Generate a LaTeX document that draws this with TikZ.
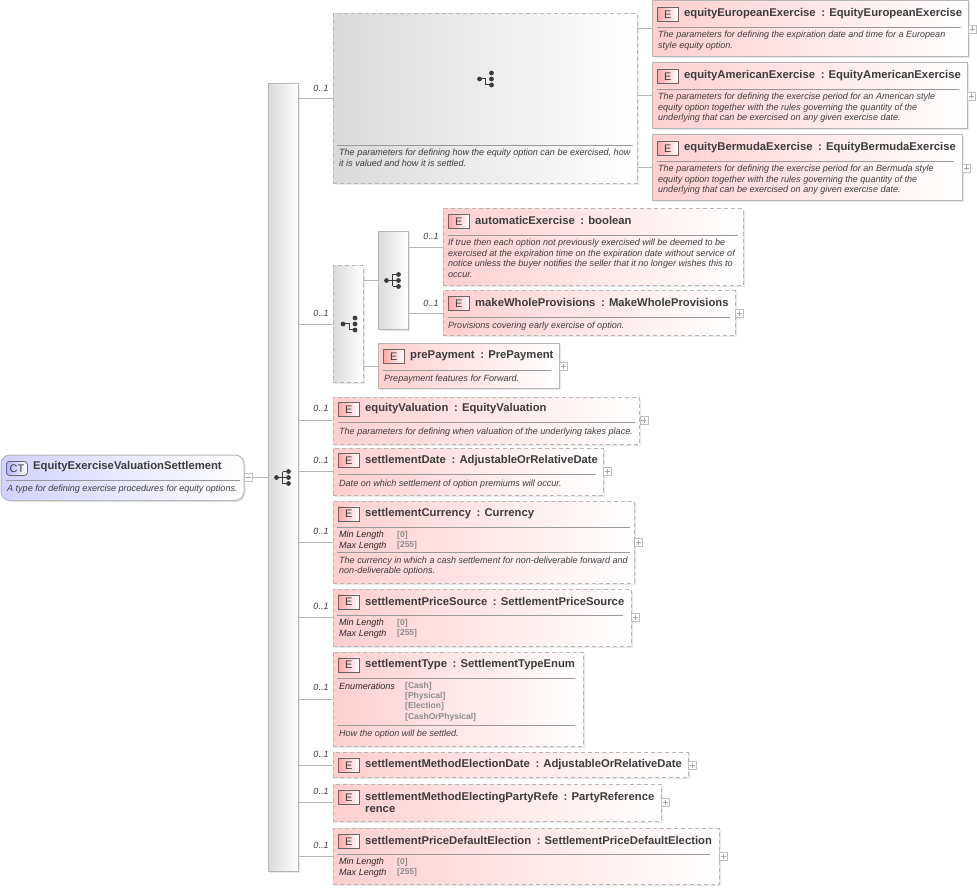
\documentclass[tikz,border=0pt]{standalone}
\usepackage{fontspec}
\setmainfont{Liberation Sans}
\usetikzlibrary{shadows}

\definecolor{elemred}{HTML}{FFCFCF}
\definecolor{typeblue}{HTML}{D2D2FF}
\definecolor{groupgray}{HTML}{DADADA}
\definecolor{edgegray}{HTML}{B6B6B6}
\definecolor{inkgray}{HTML}{3C3C3C}

\tikzset{
  softshadow/.style={drop shadow={shadow xshift=1.5pt,shadow yshift=-1.5pt,opacity=.13,fill=black!70}},
  box/.style={anchor=north west,inner sep=0pt,outer sep=0pt,line width=1pt,draw=edgegray,softshadow},
  elemsolid/.style={box,left color=elemred,right color=white},
  elemdash/.style={elemsolid,dash pattern=on 4pt off 3pt},
  groupsolid/.style={box,left color=groupgray,right color=white},
  groupdash/.style={groupsolid,dash pattern=on 4pt off 3pt},
  typebox/.style={box,left color=typeblue,right color=white,rounded corners=9pt},
  badge/.style={anchor=north west,inner sep=0pt,minimum width=21pt,minimum height=14pt,line width=.8pt,
    draw=black!60,left color=red!35,right color=white,text=inkgray,font=\fontsize{11}{12}\selectfont},
  ctbadge/.style={badge,rounded corners=3pt,left color=blue!30,right color=white},
  titletext/.style={anchor=west,inner sep=0pt,yshift=-.7pt,text=inkgray,align=left,font=\fontsize{11.27}{12}\selectfont\bfseries},
  desctext/.style={anchor=north west,inner sep=0pt,yshift=-1.2pt,text=inkgray,align=left,
    font=\fontsize{9.03}{10.4}\selectfont\itshape,execute at begin node=\strut},
  facetname/.style={desctext,text=black!85},
  facetval/.style={desctext,text=black!45,font=\fontsize{8.5}{10.4}\selectfont\bfseries},
  card/.style={inner sep=0pt,text=inkgray,font=\fontsize{9}{10}\selectfont\itshape},
  rulebar/.style={anchor=west,inner sep=0pt,outer sep=0pt,minimum height=.9pt,fill=black!40},
  conn/.style={draw=edgegray,line width=1pt},
  plusbox/.style={anchor=west,inner sep=0pt,minimum size=8pt,draw=black!25,line width=.6pt,fill=white,
    path picture={\draw[black!35,line width=.6pt]
      ([xshift=1.5pt]path picture bounding box.west) -- ([xshift=-1.5pt]path picture bounding box.east)
      ([yshift=-1.5pt]path picture bounding box.north) -- ([yshift=1.5pt]path picture bounding box.south);}},
  minusbox/.style={anchor=west,inner sep=0pt,minimum size=8pt,draw=black!25,line width=.6pt,fill=white,
    path picture={\draw[black!35,line width=.6pt]
      ([xshift=1.5pt]path picture bounding box.west) -- ([xshift=-1.5pt]path picture bounding box.east);}},
  seqicon/.pic={
    \draw[inkgray,line width=1pt] (-6,0) -- (0,0) (0,-6) -- (0,6) (0,-6) -- (6,-6) (0,0) -- (6,0) (0,6) -- (6,6);
    \fill[inkgray] (-6,0) circle (2.4) (6,-6) circle (2.4) (6,0) circle (2.4) (6,6) circle (2.4);
  },
  choiceicon/.pic={
    \draw[inkgray,line width=1pt] (-6,0) -- (0,0) -- (0,6) -- (6,6);
    \fill[inkgray] (-6,0) circle (2.4) (6,-6) circle (2.4) (6,0) circle (2.4) (6,6) circle (2.4);
  },
}

\begin{document}
\begin{tikzpicture}[x=1pt,y=-1pt]
\useasboundingbox (0,0) rectangle (977,890);

% complex type
\node[typebox,minimum width=243pt,minimum height=45.5pt] (settle) at (1,455) {};
\node[ctbadge] (settlect) at (6,461) {CT};
\node[titletext] (settletitle) at (33,466) {EquityExerciseValuationSettlement};
\node[rulebar,minimum width=234pt] (settlerule) at (6,480.5) {};
\node[desctext] (settledesc) at (7,483) {A type for defining exercise procedures for equity options.};
\node[minusbox] (settleminus) at (settle.east) {};

% main sequence
\node[groupsolid,minimum width=30pt,minimum height=787pt] (mainseq) at (268,84) {};
\pic at (282.5,477.5) {seqicon};
\draw[conn] (settleminus.east) -- (mainseq.west |- settleminus.east);

% choice with the three exercise styles
\node[groupdash,minimum width=304pt,minimum height=170pt] (stylegroup) at (333,14) {};
\pic at (485.5,79) {choiceicon};
\node[rulebar,minimum width=296pt] (stylerule) at (337,145) {};
\node[desctext] (styledesc) at (339,148) {The parameters for defining how the equity option can be exercised, how\\it is valued and how it is settled.};
\draw[conn] (mainseq.east |- stylegroup.west) -- (stylegroup.west);
\node[card] (card1) at (321,88) {0..1};

\node[elemsolid,minimum width=316pt,minimum height=56pt] (euro) at (652,1) {};
\node[badge] (eurobadge) at (657,7) {E};
\node[titletext] (eurotitle) at (684,13) {equityEuropeanExercise\enspace: EquityEuropeanExercise};
\node[rulebar,minimum width=304pt] (eurorule) at (657,27.3) {};
\node[desctext] (eurodesc) at (658,30) {The parameters for defining the expiration date and time for a European\\style equity option.};
\node[plusbox] (europlus) at (euro.east) {};

\node[elemsolid,minimum width=315pt,minimum height=66pt] (amer) at (652,63) {};
\node[badge] (amerbadge) at (657,69) {E};
\node[titletext] (amertitle) at (684,75) {equityAmericanExercise\enspace: EquityAmericanExercise};
\node[rulebar,minimum width=302pt] (amerrule) at (657,89.3) {};
\node[desctext] (amerdesc) at (658,92) {The parameters for defining the exercise period for an American style\\equity option together with the rules governing the quantity of the\\underlying that can be exercised on any given exercise date.};
\node[plusbox] (amerplus) at (amer.east) {};

\node[elemsolid,minimum width=310pt,minimum height=66pt] (berm) at (652,135) {};
\node[badge] (bermbadge) at (657,141) {E};
\node[titletext] (bermtitle) at (684,147) {equityBermudaExercise\enspace: EquityBermudaExercise};
\node[rulebar,minimum width=297pt] (bermrule) at (657,161.3) {};
\node[desctext] (bermdesc) at (658,164) {The parameters for defining the exercise period for an Bermuda style\\equity option together with the rules governing the quantity of the\\underlying that can be exercised on any given exercise date.};
\node[plusbox] (bermplus) at (berm.east) {};

\draw[conn] (stylegroup.east |- euro.west) -- (euro.west);
\draw[conn] (stylegroup.east |- amer.west) -- (amer.west);
\draw[conn] (stylegroup.east |- berm.west) -- (berm.west);

% choice of exercise provisions or prepayment
\node[groupdash,minimum width=30pt,minimum height=117pt] (paychoice) at (333,266) {};
\pic at (349,324) {choiceicon};
\draw[conn] (mainseq.east |- paychoice.west) -- (paychoice.west);
\node[card] (card2) at (321,313) {0..1};

\node[groupsolid,minimum width=30pt,minimum height=98pt] (provseq) at (378,232) {};
\pic at (392.5,280.5) {seqicon};
\draw[conn] (paychoice.east |- provseq.west) -- (provseq.west);

\node[elemdash,minimum width=300pt,minimum height=77pt] (auto) at (443,209) {};
\node[badge] (autobadge) at (448,214.5) {E};
\node[titletext] (autotitle) at (475,220) {automaticExercise\enspace: boolean};
\node[rulebar,minimum width=290pt] (autorule) at (448,235) {};
\node[desctext] (autodesc) at (448,238) {If true then each option not previously exercised will be deemed to be\\exercised at the expiration time on the expiration date without service of\\notice unless the buyer notifies the seller that it no longer wishes this to\\occur.};
\draw[conn] (provseq.east |- auto.west) -- (auto.west);
\node[card] (card3) at (431,236) {0..1};

\node[elemdash,minimum width=292pt,minimum height=45pt] (make) at (443,291) {};
\node[badge] (makebadge) at (448,296.5) {E};
\node[titletext] (maketitle) at (475,302) {makeWholeProvisions\enspace: MakeWholeProvisions};
\node[rulebar,minimum width=282pt] (makerule) at (448,317) {};
\node[desctext] (makedesc) at (448,320) {Provisions covering early exercise of option.};
\node[plusbox] (makeplus) at (make.east) {};
\draw[conn] (provseq.east |- make.west) -- (make.west);
\node[card] (card4) at (431,303) {0..1};

\node[elemsolid,minimum width=181pt,minimum height=45pt] (prepay) at (378,344) {};
\node[badge] (prepaybadge) at (383,349.5) {E};
\node[titletext] (prepaytitle) at (410,355) {prePayment\enspace: PrePayment};
\node[rulebar,minimum width=168pt] (prepayrule) at (383,370.5) {};
\node[desctext] (prepaydesc) at (384,373) {Prepayment features for Forward.};
\node[plusbox] (prepayplus) at (prepay.east) {};
\draw[conn] (paychoice.east |- prepay.west) -- (prepay.west);

% the remaining elements of the sequence
\node[elemdash,minimum width=306.5pt,minimum height=47pt] (valu) at (333,397) {};
\node[badge] (valubadge) at (338,402) {E};
\node[titletext] (valutitle) at (365,408) {equityValuation\enspace: EquityValuation};
\node[rulebar,minimum width=297pt] (valurule) at (338,422.5) {};
\node[desctext] (valudesc) at (339,426) {The parameters for defining when valuation of the underlying takes place.};
\node[plusbox] (valuplus) at (valu.east) {};
\draw[conn] (mainseq.east |- valu.west) -- (valu.west);
\node[card] (card5) at (321,408) {0..1};

\node[elemdash,minimum width=270pt,minimum height=47pt] (date) at (333,448) {};
\node[badge] (datebadge) at (338,453) {E};
\node[titletext] (datetitle) at (365,460) {settlementDate\enspace: AdjustableOrRelativeDate};
\node[rulebar,minimum width=258pt] (daterule) at (338,474.5) {};
\node[desctext] (datedesc) at (339,478) {Date on which settlement of option premiums will occur.};
\node[plusbox] (dateplus) at (date.east) {};
\draw[conn] (mainseq.east |- date.west) -- (date.west);
\node[card] (card6) at (321,460.5) {0..1};

\node[elemdash,minimum width=301pt,minimum height=82pt] (curr) at (333,501) {};
\node[badge] (currbadge) at (338,506.5) {E};
\node[titletext] (currtitle) at (365,512.5) {settlementCurrency\enspace: Currency};
\node[rulebar,minimum width=293pt] (currrule) at (337,527) {};
\node[facetname] (currnames) at (339,530) {Min Length\\Max Length};
\node[facetval] (currvals) at (397,530) {[0]\\{[255]}};
\node[rulebar,minimum width=293pt] (currrulex) at (337,552.3) {};
\node[desctext] (currdesc) at (339,555.5) {The currency in which a cash settlement for non-deliverable forward and\\non-deliverable options.};
\node[plusbox] (currplus) at (curr.east) {};
\draw[conn] (mainseq.east |- curr.west) -- (curr.west);
\node[card] (card7) at (321,531) {0..1};

\node[elemdash,minimum width=298pt,minimum height=57pt] (source) at (333,589) {};
\node[badge] (sourcebadge) at (338,594.5) {E};
\node[titletext] (sourcetitle) at (365,600.5) {settlementPriceSource\enspace: SettlementPriceSource};
\node[rulebar,minimum width=286pt] (sourcerule) at (337,615.7) {};
\node[facetname] (sourcenames) at (339,618) {Min Length\\Max Length};
\node[facetval] (sourcevals) at (397,618) {[0]\\{[255]}};
\node[plusbox] (sourceplus) at (source.east) {};
\draw[conn] (mainseq.east |- source.west) -- (source.west);
\node[card] (card8) at (321,606) {0..1};

\node[elemdash,minimum width=250pt,minimum height=94pt] (type) at (333,652) {};
\node[badge] (typebadge) at (338,657.5) {E};
\node[titletext] (typetitle) at (365,663.5) {settlementType\enspace: SettlementTypeEnum};
\node[rulebar,minimum width=238pt] (typerule) at (337,678.3) {};
\node[facetname] (typenames) at (339,681) {Enumerations};
\node[facetval] (typevals) at (405,680.5) {[Cash]\\{[Physical]}\\{[Election]}\\{[CashOrPhysical]}};
\node[rulebar,minimum width=238pt] (typerulex) at (337,725) {};
\node[desctext] (typedesc) at (339,728) {How the option will be settled.};
\draw[conn] (mainseq.east |- type.west) -- (type.west);
\node[card] (card9) at (321,687.5) {0..1};

\node[elemdash,minimum width=355pt,minimum height=25pt] (method) at (333,752.5) {};
\node[badge] (methodbadge) at (338,758) {E};
\node[titletext] (methodtitle) at (365,764) {settlementMethodElectionDate\enspace: AdjustableOrRelativeDate};
\node[plusbox] (methodplus) at (method.east) {};
\draw[conn] (mainseq.east |- method.west) -- (method.west);
\node[card] (card10) at (321,754) {0..1};

\node[elemdash,minimum width=328pt,minimum height=37pt] (party) at (333,784) {};
\node[badge] (partybadge) at (338,790) {E};
\node[titletext] (partytitle) at (365,802) {settlementMethodElectingPartyRefe\enspace: PartyReference\\rence};
\node[plusbox] (partyplus) at (party.east) {};
\draw[conn] (mainseq.east |- party.west) -- (party.west);
\node[card] (card11) at (321,791.5) {0..1};

\node[elemdash,minimum width=386pt,minimum height=56pt] (default) at (333,828.5) {};
\node[badge] (defaultbadge) at (338,834) {E};
\node[titletext] (defaulttitle) at (365,840) {settlementPriceDefaultElection\enspace: SettlementPriceDefaultElection};
\node[rulebar,minimum width=373pt] (defaultrule) at (337,854) {};
\node[facetname] (defaultnames) at (339,857) {Min Length\\Max Length};
\node[facetval] (defaultvals) at (397,857) {[0]\\{[255]}};
\node[plusbox] (defaultplus) at (default.east) {};
\draw[conn] (mainseq.east |- default.west) -- (default.west);
\node[card] (card12) at (321,845) {0..1};
\end{tikzpicture}
\end{document}
